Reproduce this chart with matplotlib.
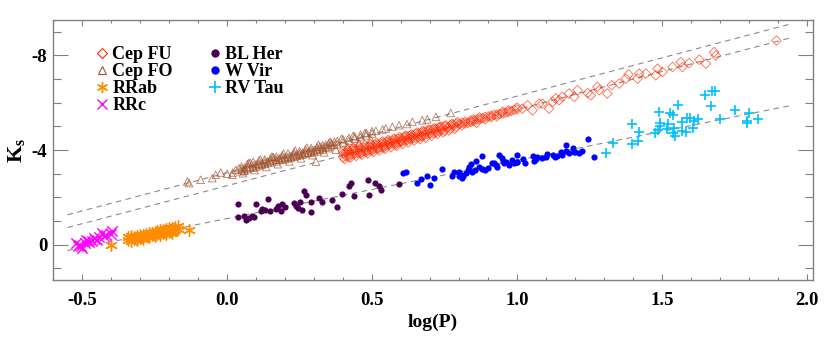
import matplotlib
matplotlib.use("Agg")
import matplotlib.pyplot as plt
from matplotlib.ticker import MultipleLocator
from matplotlib.lines import Line2D

plt.rcParams['font.family'] = ['Liberation Serif', 'DejaVu Serif']
plt.rcParams['font.weight'] = 'bold'
plt.rcParams['mathtext.fontset'] = 'custom'
plt.rcParams['mathtext.rm'] = 'Liberation Serif:bold'
plt.rcParams['mathtext.bf'] = 'Liberation Serif:bold'

# ---------------- data (log P, Ks) ----------------
cep_fu_x = [0.40, 0.40, 0.40, 0.41, 0.41, 0.42, 0.42, 0.42, 0.43, 0.43, 0.44, 0.44, 0.44,
            0.45, 0.45, 0.46, 0.46, 0.46, 0.47, 0.47, 0.48, 0.48, 0.48, 0.49, 0.49,
            0.50, 0.50, 0.50, 0.51, 0.51, 0.52, 0.52, 0.52, 0.53, 0.53, 0.54, 0.54, 0.54,
            0.55, 0.55, 0.56, 0.56, 0.56, 0.57, 0.57, 0.58, 0.58, 0.58, 0.59, 0.59,
            0.60, 0.60, 0.60, 0.61, 0.61, 0.62, 0.62, 0.63, 0.63, 0.63, 0.64, 0.64,
            0.65, 0.65, 0.66, 0.66, 0.67, 0.67, 0.67, 0.68, 0.68, 0.69, 0.69, 0.70, 0.70,
            0.71, 0.71, 0.72, 0.72, 0.73, 0.73, 0.74, 0.74, 0.75, 0.75, 0.76, 0.77, 0.77,
            0.78, 0.79, 0.79, 0.80, 0.81, 0.81, 0.82, 0.82, 0.83, 0.84, 0.84, 0.85, 0.85,
            0.86, 0.86, 0.87, 0.87, 0.88, 0.89, 0.89, 0.90, 0.91, 0.91, 0.92, 0.93, 0.93,
            0.94, 0.95, 0.95, 0.96, 0.97, 0.97, 0.98, 0.99, 1.00, 1.00,
            0.405, 0.415, 0.425, 0.435, 0.445, 0.455, 0.465, 0.475, 0.485, 0.495,
            0.505, 0.515, 0.525, 0.535, 0.545, 0.555, 0.565, 0.575, 0.585, 0.595,
            0.605, 0.615, 0.625, 0.635, 0.645, 0.655, 0.665, 0.675, 0.685, 0.695,
            0.705, 0.715, 0.725, 0.735, 0.745, 0.755, 0.765, 0.775, 0.785, 0.795,
            1.018, 1.036, 1.053, 1.076, 1.087, 1.110, 1.122, 1.133, 1.145, 1.156, 1.179,
            1.197, 1.208, 1.243, 1.254, 1.277, 1.283, 1.311, 1.326, 1.352, 1.375, 1.384,
            1.415, 1.421, 1.444, 1.478, 1.484, 1.501, 1.536, 1.564, 1.570, 1.593, 1.628,
            1.651, 1.679, 1.685, 1.894]
cep_fu_y = [-3.70, -3.85, -3.95, -3.75, -3.90, -3.80, -3.95, -3.70, -3.82, -4.00, -3.85, -3.98, -4.05,
            -3.88, -4.02, -3.90, -4.08, -3.85, -3.95, -4.10, -3.98, -4.12, -3.92, -4.00, -4.15,
            -4.05, -4.20, -3.98, -4.08, -4.22, -4.10, -4.25, -4.05, -4.12, -4.28, -4.18, -4.32, -4.10,
            -4.20, -4.35, -4.22, -4.38, -4.30, -4.28, -4.40, -4.30, -4.45, -4.22, -4.32, -4.48,
            -4.35, -4.50, -4.40, -4.40, -4.55, -4.42, -4.58, -4.45, -4.60, -4.50, -4.50, -4.62,
            -4.52, -4.68, -4.55, -4.70, -4.60, -4.75, -4.58, -4.62, -4.78, -4.68, -4.80, -4.70, -4.85,
            -4.72, -4.88, -4.75, -4.90, -4.80, -4.95, -4.85, -4.98, -4.82, -5.02, -4.95, -4.90, -5.05,
            -5.08, -4.98, -5.12, -5.10, -5.05, -5.15, -5.12, -5.20, -5.15, -5.18, -5.25, -5.22, -5.30,
            -5.28, -5.15, -5.30, -5.38, -5.35, -5.40, -5.30, -5.42, -5.45, -5.38, -5.48, -5.50, -5.42,
            -5.52, -5.55, -5.62, -5.58, -5.60, -5.68, -5.65, -5.70, -5.72, -5.80,
            -3.62, -4.00, -3.68, -4.08, -3.75, -4.15, -3.80, -4.20, -3.86, -4.25,
            -3.92, -4.30, -3.98, -4.36, -4.05, -4.42, -4.12, -4.48, -4.18, -4.55,
            -4.25, -4.60, -4.32, -4.66, -4.40, -4.74, -4.46, -4.80, -4.52, -4.86,
            -4.60, -4.92, -4.68, -4.98, -4.75, -5.04, -4.82, -5.10, -4.90, -5.18,
            -5.75, -5.89, -5.68, -5.96, -5.96, -5.75, -6.04, -6.18, -6.11, -6.25, -6.39,
            -6.25, -6.53, -6.41, -6.32, -6.67, -6.53, -6.39, -6.74, -6.81, -7.02, -7.20,
            -7.02, -7.23, -7.23, -7.16, -7.44, -7.30, -7.51, -7.72, -7.51, -7.68, -7.82,
            -7.65, -8.14, -8.00, -8.63]

cep_fo_x = [-0.137, -0.131, -0.091, -0.051, -0.039, -0.022, 0.000, 0.018, 0.020, 0.030, 0.041, 0.059,
            0.05, 0.05, 0.05, 0.06, 0.06, 0.07, 0.07, 0.07, 0.08, 0.08, 0.09, 0.09, 0.09,
            0.10, 0.10, 0.11, 0.11, 0.11, 0.12, 0.12, 0.13, 0.13, 0.13, 0.14, 0.14,
            0.15, 0.15, 0.15, 0.16, 0.16, 0.17, 0.17, 0.17, 0.18, 0.18, 0.19, 0.19, 0.19,
            0.20, 0.20, 0.21, 0.21, 0.21, 0.22, 0.22, 0.23, 0.23, 0.23, 0.24, 0.24,
            0.25, 0.25, 0.25, 0.26, 0.26, 0.27, 0.27, 0.27, 0.28, 0.28, 0.29, 0.29, 0.29,
            0.30, 0.30, 0.31, 0.31, 0.31, 0.32, 0.32, 0.33, 0.33, 0.33, 0.34, 0.34,
            0.35, 0.35, 0.35, 0.36, 0.36, 0.37, 0.37, 0.38, 0.38, 0.40, 0.40, 0.42, 0.42,
            0.44, 0.44, 0.46, 0.46, 0.48, 0.48, 0.50, 0.50, 0.306,
            0.055, 0.075, 0.095, 0.115, 0.135, 0.155, 0.175, 0.195, 0.215, 0.235, 0.255, 0.275,
            0.295, 0.315, 0.335, 0.355, 0.375, 0.395, 0.415, 0.435, 0.455, 0.475, 0.495,
            0.513, 0.536, 0.547, 0.570, 0.593, 0.620, 0.639, 0.673, 0.690, 0.720, 0.771]
cep_fo_y = [-2.67, -2.60, -2.74, -2.81, -2.95, -3.05, -3.00, -2.95, -3.05, -3.16, -3.23, -3.13,
            -3.20, -3.30, -3.10, -3.25, -3.15, -3.30, -3.20, -3.40, -3.28, -3.45, -3.35, -3.50, -3.25,
            -3.40, -3.30, -3.42, -3.55, -3.35, -3.45, -3.38, -3.50, -3.60, -3.42, -3.52, -3.45,
            -3.55, -3.65, -3.48, -3.58, -3.70, -3.60, -3.52, -3.72, -3.65, -3.58, -3.68, -3.78, -3.60,
            -3.70, -3.62, -3.72, -3.85, -3.65, -3.75, -3.68, -3.80, -3.90, -3.72, -3.82, -3.75,
            -3.85, -3.95, -3.78, -3.88, -3.80, -3.90, -4.02, -3.85, -3.95, -3.88, -3.98, -4.08, -3.90,
            -4.00, -3.92, -4.02, -4.12, -3.95, -4.05, -4.15, -4.10, -4.20, -4.02, -4.12, -4.22,
            -4.15, -4.28, -4.08, -4.20, -4.30, -4.22, -4.35, -4.25, -4.38, -4.32, -4.45, -4.40, -4.52,
            -4.48, -4.58, -4.55, -4.65, -4.62, -4.72, -4.70, -4.80, -3.51,
            -3.02, -3.45, -3.15, -3.60, -3.28, -3.72, -3.40, -3.85, -3.52, -3.98, -3.65, -4.10,
            -3.78, -4.22, -3.90, -4.35, -4.02, -4.48, -4.15, -4.60, -4.30, -4.72, -4.45,
            -4.81, -4.87, -4.91, -4.98, -5.05, -5.10, -5.19, -5.26, -5.30, -5.40, -5.57]

rrab_x = [-0.34, -0.34, -0.33, -0.33, -0.33, -0.32, -0.32, -0.31, -0.31, -0.31, -0.30, -0.30,
          -0.29, -0.29, -0.29, -0.28, -0.28, -0.27, -0.27, -0.27, -0.26, -0.26,
          -0.25, -0.25, -0.25, -0.24, -0.24, -0.23, -0.23, -0.23, -0.22, -0.22,
          -0.21, -0.21, -0.21, -0.20, -0.20, -0.19, -0.19, -0.19, -0.18, -0.18, -0.17, -0.17,
          -0.401, -0.131]
rrab_y = [-0.20, -0.30, -0.15, -0.28, -0.35, -0.22, -0.32, -0.25, -0.38, -0.18, -0.28, -0.40,
          -0.30, -0.42, -0.22, -0.35, -0.45, -0.38, -0.48, -0.30, -0.40, -0.50,
          -0.42, -0.55, -0.35, -0.45, -0.58, -0.48, -0.60, -0.40, -0.50, -0.62,
          -0.52, -0.65, -0.45, -0.55, -0.68, -0.58, -0.72, -0.50, -0.60, -0.75, -0.65, -0.78,
          0.00, -0.63]

rrc_x = [-0.522, -0.515, -0.510, -0.505, -0.499, -0.490, -0.487, -0.480, -0.475, -0.464,
         -0.459, -0.447, -0.440, -0.430, -0.425, -0.418, -0.400, -0.395]
rrc_y = [-0.07, 0.05, 0.00, 0.08, 0.14, -0.05, -0.21, -0.15, -0.10, -0.14,
         -0.28, -0.21, -0.30, -0.49, -0.35, -0.42, -0.45, -0.56]

blher_x = [0.038, 0.038, 0.060, 0.064, 0.076, 0.087, 0.093, 0.101, 0.116, 0.120, 0.130, 0.142,
           0.147, 0.168, 0.174, 0.185, 0.191, 0.200, 0.231, 0.239, 0.243, 0.250, 0.260, 0.266,
           0.271, 0.289, 0.289, 0.317, 0.327, 0.363, 0.380, 0.395, 0.421, 0.427, 0.438,
           0.487, 0.490, 0.510, 0.524, 0.530, 0.593]
blher_y = [-1.73, -1.17, -1.20, -1.05, -1.12, -1.22, -1.15, -1.73, -1.40, -1.50, -1.45, -1.94,
           -1.43, -1.50, -1.64, -1.43, -1.71, -1.60, -1.75, -1.64, -1.54, -1.80, -1.47, -2.27,
           -2.08, -1.80, -1.38, -1.97, -1.82, -1.89, -1.59, -2.15, -2.46, -2.60, -2.06,
           -2.74, -2.08, -2.60, -2.46, -2.32, -2.57]

wvir_x = [0.607, 0.616, 0.656, 0.670, 0.691, 0.699, 0.714, 0.740, 0.775, 0.783, 0.798, 0.800,
          0.806, 0.811, 0.814, 0.823, 0.829, 0.834, 0.840, 0.846, 0.855, 0.858, 0.870, 0.878,
          0.880, 0.890, 0.901, 0.913, 0.920, 0.927, 0.932, 0.938, 0.949, 0.950, 0.955, 0.961,
          0.972, 0.984, 0.990, 0.998, 1.000, 1.001, 1.020, 1.028, 1.053, 1.059, 1.064, 1.070,
          1.087, 1.099, 1.104, 1.122, 1.130, 1.139, 1.150, 1.156, 1.168, 1.170, 1.179, 1.191,
          1.197, 1.200, 1.214, 1.223, 1.245, 1.266]
wvir_y = [-3.02, -3.09, -2.60, -2.78, -2.91, -2.53, -2.81, -3.19, -2.88, -3.09, -2.91, -3.09,
          -2.95, -2.81, -2.88, -3.02, -3.16, -3.26, -3.40, -3.05, -3.16, -3.55, -3.30, -3.76,
          -3.19, -3.16, -3.23, -3.47, -3.45, -3.37, -3.30, -3.79, -3.65, -3.55, -3.44, -3.51,
          -3.37, -3.58, -3.44, -3.79, -3.50, -3.51, -3.62, -3.44, -3.75, -3.55, -3.61, -3.70,
          -3.65, -3.69, -3.83, -3.79, -3.72, -3.75, -3.90, -3.79, -4.21, -3.95, -3.86, -4.07,
          -3.93, -3.90, -3.86, -3.97, -4.45, -3.72]

rvtau_x = [1.306, 1.332, 1.395, 1.395, 1.418, 1.421, 1.475, 1.484, 1.490, 1.492, 1.493, 1.516,
           1.520, 1.528, 1.536, 1.539, 1.541, 1.545, 1.553, 1.568, 1.570, 1.581, 1.584, 1.597,
           1.607, 1.610, 1.624, 1.648, 1.670, 1.671, 1.683, 1.700, 1.751, 1.791, 1.794, 1.800,
           1.832]
rvtau_y = [-3.86, -4.31, -4.25, -5.12, -4.39, -4.77, -4.73, -4.84, -5.59, -5.01, -5.15, -4.87,
           -5.08, -5.57, -5.47, -4.70, -4.95, -4.60, -5.89, -4.81, -5.19, -4.77, -5.36, -5.36,
           -4.93, -5.23, -5.33, -6.32, -5.87, -6.50, -6.50, -5.33, -5.68, -5.15, -5.23, -5.55,
           -5.33]

# dashed PL relations: (slope, intercept)
fit_fo = [-3.24, -3.04]
fit_fu = [-3.22, -2.49]
fit_t2 = [-2.46, -1.10]
fit_range = [-0.55, 1.95]

xticks = [-0.5, 0.0, 0.5, 1.0, 1.5, 2.0]
yticks = [0, -4, -8]

# ---------------- plot ----------------
fig = plt.figure(figsize=(8.3, 3.38), dpi=100)
ax = fig.add_axes([0.0639, 0.1716, 0.9156, 0.7692])

for slope, icpt in (fit_fo, fit_fu, fit_t2):
    ax.plot(fit_range, [icpt + slope * fit_range[0], icpt + slope * fit_range[1]],
            ls=(0, (5, 4)), color='#8a8a8a', lw=0.8, zorder=1)

fo_col = '#a0522d'
fu_col = '#ff2a00'
ax.scatter(cep_fo_x, cep_fo_y, marker='^', s=30, facecolors='none', edgecolors=fo_col,
           linewidths=0.6, alpha=0.75, zorder=2)
ax.scatter(cep_fu_x, cep_fu_y, marker='D', s=24, facecolors='none', edgecolors=fu_col,
           linewidths=0.6, alpha=0.7, zorder=3)
ast = (6, 2, 0)
ax.scatter(rrab_x, rrab_y, marker=ast, s=70, color='#ff8c00', linewidths=1.0, zorder=3)
ax.scatter(rrc_x, rrc_y, marker='x', s=55, color='#ff00ff', linewidths=1.0, zorder=3)
ax.scatter(blher_x, blher_y, marker='o', s=20, color='#4b0055', linewidths=0, zorder=3)
ax.scatter(wvir_x, wvir_y, marker='o', s=20, color='#0000ff', linewidths=0, zorder=3)
ax.scatter(rvtau_x, rvtau_y, marker='+', s=60, color='#00bfff', linewidths=1.2, zorder=3)

ax.set_xlim(-0.6, 2.02)
ax.set_ylim(1.5, -9.5)
ax.set_xticks(xticks)
ax.set_xticklabels(['%.1f' % t for t in xticks])
ax.set_yticks(yticks)
ax.set_yticklabels(['%d' % t for t in yticks])
ax.xaxis.set_minor_locator(MultipleLocator(0.1))
ax.yaxis.set_minor_locator(MultipleLocator(1))

for s in ax.spines.values():
    s.set_color('#808080')
    s.set_linewidth(1.0)
ax.tick_params(axis='both', which='both', direction='in', color='#808080',
               top=True, right=True, labelsize=13.5, width=0.8)
ax.tick_params(axis='x', which='major', length=4, pad=9)
ax.tick_params(axis='x', which='minor', length=2.2)
ax.tick_params(axis='y', which='major', length=11, pad=4)
ax.tick_params(axis='y', which='minor', length=6)
for lab in ax.get_xticklabels() + ax.get_yticklabels():
    lab.set_fontweight('bold')

ax.set_xlabel('log(P)', fontsize=14, fontweight='bold', labelpad=3)
ax.set_ylabel(r'$\mathbf{K}_{\mathbf{s}}$', fontsize=16, labelpad=3)

handles = [
    Line2D([], [], ls='none', marker='D', ms=5, mfc='none', mec=fu_col, mew=0.8),
    Line2D([], [], ls='none', marker='^', ms=6, mfc='none', mec=fo_col, mew=0.8),
    Line2D([], [], ls='none', marker=ast, ms=8, color='#ff8c00', mew=1.0),
    Line2D([], [], ls='none', marker='x', ms=7, color='#ff00ff', mew=1.0),
    Line2D([], [], ls='none', marker='o', ms=6, color='#4b0055', mew=0),
    Line2D([], [], ls='none', marker='o', ms=6, color='#0000ff', mew=0),
    Line2D([], [], ls='none', marker='+', ms=8, color='#00bfff', mew=1.2),
]
labels = ['Cep FU', 'Cep FO', 'RRab', 'RRc', 'BL Her', 'W Vir', 'RV Tau']
leg = ax.legend(handles, labels, ncol=2, loc='upper left', bbox_to_anchor=(0.047, 0.928),
                frameon=False, prop={'family': 'Liberation Serif', 'weight': 'bold', 'size': 13},
                handlelength=0.7, handletextpad=0.2, columnspacing=2.0, labelspacing=0.0,
                borderaxespad=0)

fig.savefig('out.png', dpi=100)
